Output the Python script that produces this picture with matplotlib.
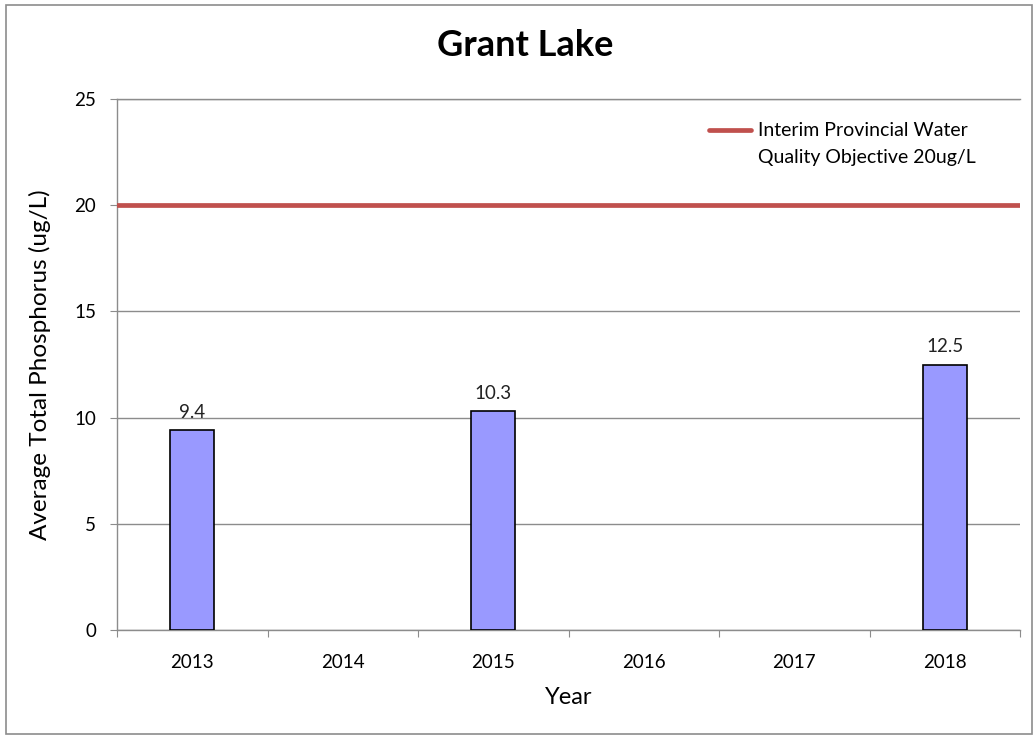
import matplotlib
matplotlib.use("Agg")
import matplotlib.pyplot as plt
from matplotlib.patches import Rectangle
from matplotlib.lines import Line2D
import numpy as np

plt.rcParams['font.family'] = ['Lato', 'DejaVu Sans']

years = ["2013", "2014", "2015", "2016", "2017", "2018"]
phosphorus = [9.4, np.nan, 10.3, np.nan, np.nan, 12.5]
objective = 20
objective_label = "Interim Provincial Water\nQuality Objective 20ug/L"

fig = plt.figure(figsize=(10.33, 7.36), dpi=100)
ax = fig.add_axes([117/1033, 1-630/736, (1020-117)/1033, (630-99)/736])

x = np.arange(len(years))
vals = [0 if np.isnan(v) else v for v in phosphorus]
bars = ax.bar(x, vals, width=0.29, color="#9999FF", edgecolor="black", linewidth=1.2, zorder=3)
for xi, v in zip(x, phosphorus):
    if not np.isnan(v):
        ax.text(xi, v + 0.45, f"{v:.1f}", ha="center", va="bottom", fontsize=13.5, color="#222222")
for b, v in zip(bars, phosphorus):
    if np.isnan(v):
        b.set_visible(False)

ax.axhline(objective, color="#C0504D", linewidth=3.4, zorder=4, solid_capstyle="round")

ax.set_xlim(-0.5, len(years) - 0.5)
ax.set_ylim(0, 25)
ax.set_yticks([0, 5, 10, 15, 20, 25])
ax.yaxis.grid(True, color="#8c8c8c", linewidth=1.0, zorder=0)
ax.set_axisbelow(True)
ax.spines["right"].set_visible(False)
for s in ["top", "left", "bottom"]:
    ax.spines[s].set_color("#8c8c8c")
    ax.spines[s].set_linewidth(1.0)

ax.set_xticks(np.arange(len(years) + 1) - 0.5, minor=False)
ax.set_xticklabels([])
ax.set_xticks(x, minor=True)
ax.set_xticklabels(years, minor=True, fontsize=13.5)
ax.tick_params(axis="x", which="major", length=5, color="#8c8c8c", direction="out")
ax.tick_params(axis="x", which="minor", length=0, pad=17)
ax.tick_params(axis="y", length=5, color="#8c8c8c", labelsize=13.5, pad=10)

ax.set_xlabel("Year", fontsize=17, labelpad=12)
ax.set_ylabel("Average Total Phosphorus (ug/L)", fontsize=17.5, labelpad=17)
fig.text(0.5085, 1-46/736, "Grant Lake", ha="center", va="center", fontsize=26, fontweight="bold")

# legend
fig.add_artist(Line2D([709/1033, 751/1033], [1-130/736, 1-130/736], color="#C0504D",
                      linewidth=3.4, solid_capstyle="round"))
fig.text(758/1033, 1-130/736, objective_label.split("\n")[0], ha="left", va="center", fontsize=14)
fig.text(758/1033, 1-158/736, objective_label.split("\n")[1], ha="left", va="center", fontsize=14)

fig.patches.append(Rectangle((6/1033, 0.003), 1 - 7/1033, 1 - 5/736 - 0.003, transform=fig.transFigure,
                             fill=False, edgecolor="#8c8c8c", linewidth=1.2))

fig.savefig("out.png", dpi=100)
